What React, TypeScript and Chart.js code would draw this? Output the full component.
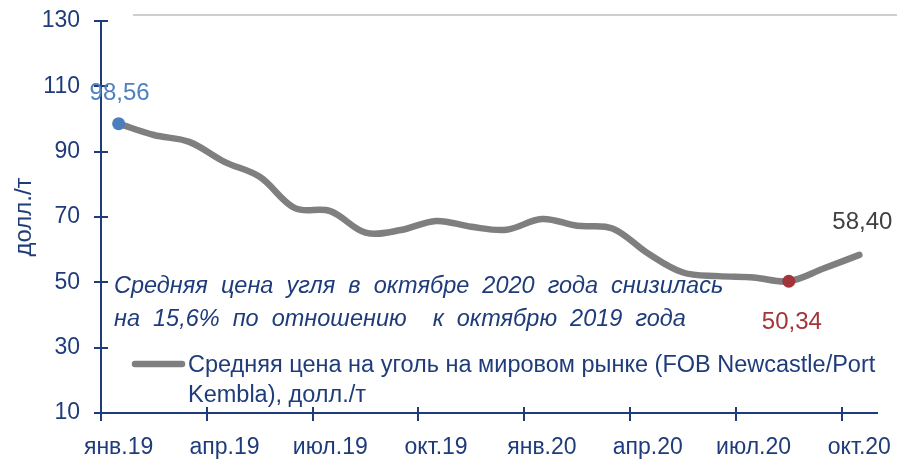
import React, { useEffect, useRef } from "react";
import { Chart, registerables } from "chart.js";

Chart.register(...registerables);

const months = [
  "янв.19", "фев.19", "мар.19", "апр.19", "май.19", "июн.19", "июл.19", "авг.19",
  "сен.19", "окт.19", "ноя.19", "дек.19", "янв.20", "фев.20", "мар.20", "апр.20",
  "май.20", "июн.20", "июл.20", "авг.20", "сен.20", "окт.20",
];
const prices = [
  98.56, 95.1, 93.0, 86.9, 82.3, 72.7, 71.8, 65.2, 66.0, 68.8, 67.0,
  66.1, 69.4, 67.3, 66.5, 58.9, 53.0, 51.9, 51.5, 50.34, 54.3, 58.4,
];
const yMin = 10;
const yMax = 130;
const yStep = 20;
const labelEvery = 3;
const seriesName = "Средняя цена на уголь на мировом рынке (FOB Newcastle/Port Kembla), долл./т";
const legendLines = ["Средняя цена на уголь на мировом рынке (FOB Newcastle/Port", "Kembla), долл./т"];
const noteLines = [
  "Средняя цена угля в октябре 2020 года снизилась",
  "на 15,6% по отношению  к октябрю 2019 года",
];
const yTitle = "долл./т";
const firstIdx = 0;
const minIdx = 19;
const lastIdx = 21;

const NAVY = "#1F3C7A";
const GRAY = "#7F7F7F";
const BLUE = "#4A7EBE";
const RED = "#A3343A";
const DARK = "#404040";
const FONT = "'Liberation Sans', Arial, sans-serif";

const fmt = (v: number) => v.toFixed(2).replace(".", ",");

const overlay = {
  id: "overlay",
  afterDraw(chart: any) {
    const { ctx, chartArea, scales } = chart;
    const x = scales.x;
    const y = scales.y;
    ctx.save();
    // top decorative rule
    ctx.strokeStyle = "#CFCFCF";
    ctx.lineWidth = 2;
    ctx.beginPath();
    ctx.moveTo(133, 15);
    ctx.lineTo(897, 15);
    ctx.stroke();

    // crossing tick marks
    ctx.strokeStyle = NAVY;
    ctx.lineWidth = 2;
    y.ticks.forEach((_t: any, i: number) => {
      const py = Math.round(y.getPixelForTick(i));
      ctx.beginPath();
      ctx.moveTo(chartArea.left - 7, py);
      ctx.lineTo(chartArea.left + 7, py);
      ctx.stroke();
    });
    const half = (x.getPixelForValue(1) - x.getPixelForValue(0)) / 2;
    for (let i = 0; i < months.length; i += labelEvery) {
      const px = Math.round(x.getPixelForValue(i) - half);
      ctx.beginPath();
      ctx.moveTo(px, chartArea.bottom - 6);
      ctx.lineTo(px, chartArea.bottom + 8);
      ctx.stroke();
    }

    // data labels
    const meta = chart.getDatasetMeta(0);
    ctx.font = `24px ${FONT}`;
    ctx.textAlign = "center";
    ctx.textBaseline = "alphabetic";
    const p0 = meta.data[firstIdx];
    ctx.fillStyle = "#4F81BD";
    ctx.fillText(fmt(prices[firstIdx]), p0.x + 1, p0.y - 24);
    const pm = meta.data[minIdx];
    ctx.fillStyle = RED;
    ctx.fillText(fmt(prices[minIdx]), pm.x + 3, pm.y + 48);
    const pl = meta.data[lastIdx];
    ctx.fillStyle = DARK;
    ctx.fillText(fmt(prices[lastIdx]), pl.x + 3, pl.y - 26);

    // annotation note
    ctx.fillStyle = NAVY;
    ctx.textAlign = "left";
    ctx.font = `italic 23.5px ${FONT}`;
    (ctx as any).wordSpacing = "6.5px";
    ctx.fillText(noteLines[0], 114, 293);
    ctx.fillText(noteLines[1], 114, 326);
    (ctx as any).wordSpacing = "0px";

    // legend
    ctx.strokeStyle = GRAY;
    ctx.lineWidth = 6.5;
    ctx.lineCap = "round";
    ctx.beginPath();
    ctx.moveTo(135, 364);
    ctx.lineTo(182, 364);
    ctx.stroke();
    ctx.font = `23.5px ${FONT}`;
    ctx.fillText(legendLines[0], 188, 372);
    ctx.fillText(legendLines[1], 188, 402);
    ctx.restore();
  },
};

const zeroPad = (s: any) => {
  s.paddingLeft = 0;
  s.paddingRight = 0;
  s.paddingTop = 0;
  s.paddingBottom = 0;
};

export default function App() {
  const ref = useRef<HTMLCanvasElement | null>(null);
  useEffect(() => {
    if (!ref.current) return;
    const chart = new Chart(ref.current, {
      type: "line",
      data: {
        labels: months,
        datasets: [
          {
            label: seriesName,
            data: prices,
            borderColor: GRAY,
            borderWidth: 6.5,
            tension: 0.35,
            borderCapStyle: "round",
            pointRadius: (c: any) => (c.dataIndex === firstIdx || c.dataIndex === minIdx ? 6.5 : 0),
            pointBackgroundColor: (c: any) => (c.dataIndex === firstIdx ? BLUE : RED),
            pointBorderWidth: 0,
            pointBorderColor: "transparent",
          },
        ],
      },
      options: {
        animation: false,
        responsive: false,
        events: [],
        layout: { padding: { top: 21, right: 20, left: 0, bottom: 0 } },
        plugins: { legend: { display: false }, tooltip: { enabled: false } },
        scales: {
          x: {
            type: "category",
            offset: true,
            grid: { display: false, drawTicks: false, offset: true },
            border: { display: true, color: NAVY, width: 2 },
            ticks: {
              autoSkip: false,
              maxRotation: 0,
              padding: 21,
              color: NAVY,
              font: { family: FONT, size: 23 },
              callback: (_v: any, i: number) => (i % labelEvery === 0 ? months[i] : ""),
            },
            afterFit: (s: any) => {
              s.height = 46;
              zeroPad(s);
            },
          },
          y: {
            min: yMin,
            max: yMax,
            grid: { display: false, drawTicks: false },
            border: { display: true, color: NAVY, width: 2 },
            ticks: {
              stepSize: yStep,
              padding: 21,
              color: NAVY,
              font: { family: FONT, size: 23 },
            },
            title: {
              display: true,
              text: yTitle,
              color: NAVY,
              font: { family: FONT, size: 24 },
              padding: { top: 10, bottom: 0 },
            },
            afterFit: (s: any) => {
              s.width = 101;
              zeroPad(s);
            },
          },
        },
      },
      plugins: [overlay],
    });
    return () => chart.destroy();
  }, []);
  return (
    <div style={{ position: "absolute", left: 0, top: 0, width: 897, height: 459, background: "#fff" }}>
      <canvas ref={ref} width={897} height={459} style={{ display: "block" }} />
    </div>
  );
}
